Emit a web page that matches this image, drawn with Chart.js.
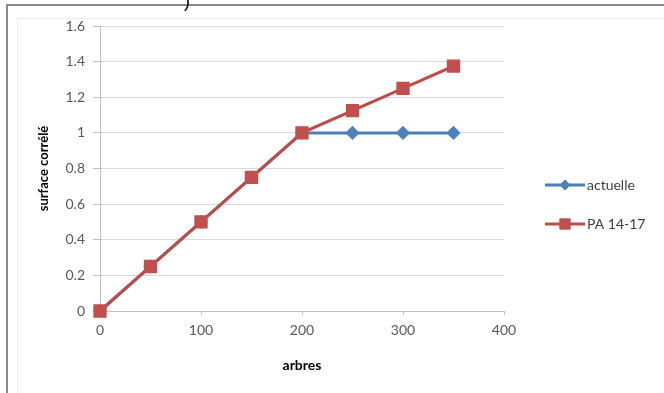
<!DOCTYPE html>
<html>
<head>
<meta charset="utf-8">
<script src="https://cdn.jsdelivr.net/npm/chart.js@4/dist/chart.umd.min.js"></script>
<style>
  html, body { margin: 0; padding: 0; background: #fff; }
  #wrap { position: relative; width: 664px; height: 393px; overflow: hidden; }
  #frag { position: absolute; left: 184px; top: -9px; font: 18px "Liberation Sans", Arial, sans-serif; color: #000; }
</style>
</head>
<body>
<div id="wrap">
  <canvas id="c" width="664" height="393"></canvas>
  <div id="frag">)</div>
</div>
<script>
const arbres = [0, 50, 100, 150, 200, 250, 300, 350];
const actuelle = [0, 0.25, 0.5, 0.75, 1, 1, 1, 1];
const pa1417 = [0, 0.25, 0.5, 0.75, 1, 1.125, 1.25, 1.375];
const seriesNames = ['actuelle', 'PA 14-17'];
const xTitle = 'arbres';
const yTitle = 'surface corrélé';

const BLUE = '#4A7EBB', BLUE_F = '#4F81BD';
const RED = '#BE4B48', RED_F = '#C0504D';
const FONT = 'Lato, "Liberation Sans", Arial, sans-serif';

const framePlugin = {
  id: 'frame',
  beforeDraw(chart) {
    const ctx = chart.ctx;
    ctx.save();
    ctx.strokeStyle = '#ededed';
    ctx.lineWidth = 1;
    ctx.strokeRect(17.5, 18.5, 700, 400);
    ctx.strokeStyle = '#8a8a8a';
    ctx.lineWidth = 2;
    ctx.beginPath();
    ctx.moveTo(7, 400); ctx.lineTo(7, 5); ctx.lineTo(670, 5);
    ctx.stroke();
    ctx.restore();
  }
};

const legendPlugin = {
  id: 'customLegend',
  afterDraw(chart) {
    const ctx = chart.ctx;
    const rows = [185, 224];
    ctx.save();
    chart.data.datasets.forEach((ds, i) => {
      const y = rows[i];
      ctx.strokeStyle = ds.borderColor;
      ctx.lineWidth = ds.borderWidth;
      ctx.beginPath(); ctx.moveTo(545, y); ctx.lineTo(585, y); ctx.stroke();
      ctx.fillStyle = ds.pointBackgroundColor;
      ctx.strokeStyle = ds.pointBorderColor;
      ctx.lineWidth = 1;
      Chart.helpers.drawPoint(ctx, {pointStyle: ds.pointStyle, radius: ds.pointRadius, borderWidth: 1, rotation: 0}, 565, y);
      ctx.fillStyle = '#404040';
      ctx.font = '14px ' + FONT;
      ctx.textBaseline = 'middle';
      ctx.textAlign = 'left';
      ctx.fillText(ds.label, 587, y);
    });
    ctx.restore();
  }
};

const toXY = (ys) => ys.map((v, i) => ({x: arbres[i], y: v}));

new Chart(document.getElementById('c'), {
  type: 'line',
  data: {
    datasets: [
      {
        label: seriesNames[0], data: toXY(actuelle), order: 1, clip: false,
        borderColor: BLUE, borderWidth: 3, pointStyle: 'rectRot', pointRadius: 5,
        pointBackgroundColor: BLUE_F, pointBorderColor: BLUE_F, pointHoverRadius: 5
      },
      {
        label: seriesNames[1], data: toXY(pa1417), order: 0, clip: false,
        borderColor: RED, borderWidth: 3, pointStyle: 'rect', pointRadius: 7.3,
        pointBackgroundColor: RED_F, pointBorderColor: RED_F, pointHoverRadius: 7.3
      }
    ]
  },
  options: {
    responsive: false,
    animation: false,
    layout: { padding: { left: 20, top: 26, right: 160, bottom: 0 } },
    plugins: { legend: { display: false }, tooltip: { enabled: false } },
    scales: {
      x: {
        type: 'linear', min: 0, max: 400,
        ticks: { stepSize: 100, color: '#595959', font: { family: FONT, size: 14 }, padding: 7, maxRotation: 0 },
        grid: { drawOnChartArea: false, tickLength: 4, color: '#bfbfbf' },
        border: { color: '#bfbfbf' },
        title: { display: true, text: xTitle, color: '#000', font: { family: FONT, size: 14, weight: 'bold' }, padding: { bottom: 19, top: 0 } },
        afterFit(s) { s.height = 82; }
      },
      y: {
        type: 'linear', min: 0, max: 1.6,
        ticks: { stepSize: 0.2, color: '#595959', font: { family: FONT, size: 14 }, padding: 8,
          callback: (v) => String(+v.toFixed(1)) },
        grid: { color: '#d9d9d9', tickLength: 7, tickColor: '#bfbfbf' },
        border: { color: '#bfbfbf' },
        title: { display: true, text: yTitle, color: '#000', font: { family: FONT, size: 13, weight: 'bold' }, padding: { top: 16, bottom: 0 } },
        afterFit(s) { s.width = 80; }
      }
    }
  },
  plugins: [framePlugin, legendPlugin]
});
</script>
</body>
</html>
